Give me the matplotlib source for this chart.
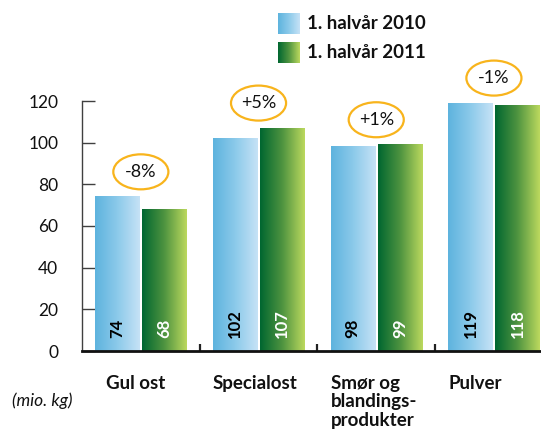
import numpy as np
import matplotlib
matplotlib.use("Agg")
import matplotlib.pyplot as plt
from matplotlib.patches import Ellipse
from matplotlib.colors import LinearSegmentedColormap

plt.rcParams['font.family'] = ['Lato', 'DejaVu Sans']

categories = ["Gul ost", "Specialost", "Smør og\nblandings-\nprodukter", "Pulver"]
series_names = ["1. halvår 2010", "1. halvår 2011"]
values_2010 = [74, 102, 98, 119]
values_2011 = [68, 107, 99, 118]
changes = ["-8%", "+5%", "+1%", "-1%"]
yticks = [0, 20, 40, 60, 80, 100, 120]
unit_label = "(mio. kg)"

blue_cmap = LinearSegmentedColormap.from_list("b", ["#5db3de", "#8ccaea", "#c6e2f6"])
green_cmap = LinearSegmentedColormap.from_list("g", ["#006630", "#4f9440", "#bcd95e"])

fig = plt.figure(figsize=(5.41, 4.30), dpi=100)
ax = fig.add_axes([82/541, 79/430, (541-82)/541, 250/430])

x = np.arange(len(categories))
w = 0.375
off = 0.2
bars1 = ax.bar(x - off, values_2010, w, color="none", edgecolor="none")
bars2 = ax.bar(x + off, values_2011, w, color="none", edgecolor="none")

grad = np.linspace(0, 1, 256).reshape(1, -1)
for bars, cmap in ((bars1, blue_cmap), (bars2, green_cmap)):
    for b in bars:
        x0, y0 = b.get_x(), b.get_y()
        ax.imshow(grad, cmap=cmap, aspect="auto", extent=(x0, x0 + b.get_width(), y0, y0 + b.get_height()),
                  zorder=2, interpolation="bicubic")

for b, v in zip(bars1, values_2010):
    ax.text(b.get_x() + b.get_width()/2, 6.2, str(v), rotation=90, ha="center", va="bottom",
            fontsize=12, fontweight="bold", color="black", zorder=4)
for b, v in zip(bars2, values_2011):
    ax.text(b.get_x() + b.get_width()/2, 6.2, str(v), rotation=90, ha="center", va="bottom",
            fontsize=12, fontweight="bold", color="white", zorder=4)

for i, (a, b_, c) in enumerate(zip(values_2010, values_2011, changes)):
    yc = max(a, b_) + 12
    e = Ellipse((x[i], yc), 0.468, 16.8, facecolor="white", edgecolor="#f8b41c", lw=1.6,
                clip_on=False, zorder=5)
    ax.add_patch(e)
    ax.text(x[i], yc, c, ha="center", va="center", fontsize=13, color="#111111", zorder=6)

ax.set_xlim(-0.5, 3.4)
ax.set_ylim(0, 120)
ax.set_yticks(yticks)
ax.tick_params(axis="y", direction="in", length=9, width=1, color="#404040", pad=17,
               labelsize=12.5, labelcolor="#111111")
ax.set_xticks([])
ax.set_xticks([0.5, 1.5, 2.5], minor=True)
ax.tick_params(axis="x", which="minor", direction="in", length=5, width=1.6, color="#222222")
for s in ("top", "right"):
    ax.spines[s].set_visible(False)
ax.spines["left"].set_color("#404040")
ax.spines["left"].set_linewidth(1)
ax.spines["bottom"].set_color("#111111")
ax.spines["bottom"].set_linewidth(2)

for i, c in enumerate(categories):
    xl = x[i] - off - w/2 + (0.09 if i == 0 else 0)
    ax.text(xl, -11.5, c, ha="left", va="top", fontsize=13.5, fontweight="bold",
            color="#111111", linespacing=1.1, clip_on=False)

fig.text(12/541, 1 - 401/430, unit_label, ha="left", va="center", fontsize=12.5, style="italic",
         color="#111111")

# legend
for j, (name, cmap) in enumerate(zip(series_names, (blue_cmap, green_cmap))):
    top = 13 + j * 29
    lax = fig.add_axes([278/541, 1 - (top + 21)/430, 22/541, 21/430])
    lax.imshow(grad, cmap=cmap, aspect="auto", interpolation="bicubic")
    lax.axis("off")
    fig.text(307/541, 1 - (top + 10.5)/430, name, ha="left", va="center", fontsize=13.5,
             fontweight="bold", color="#111111")

fig.savefig("out.png", dpi=100)
